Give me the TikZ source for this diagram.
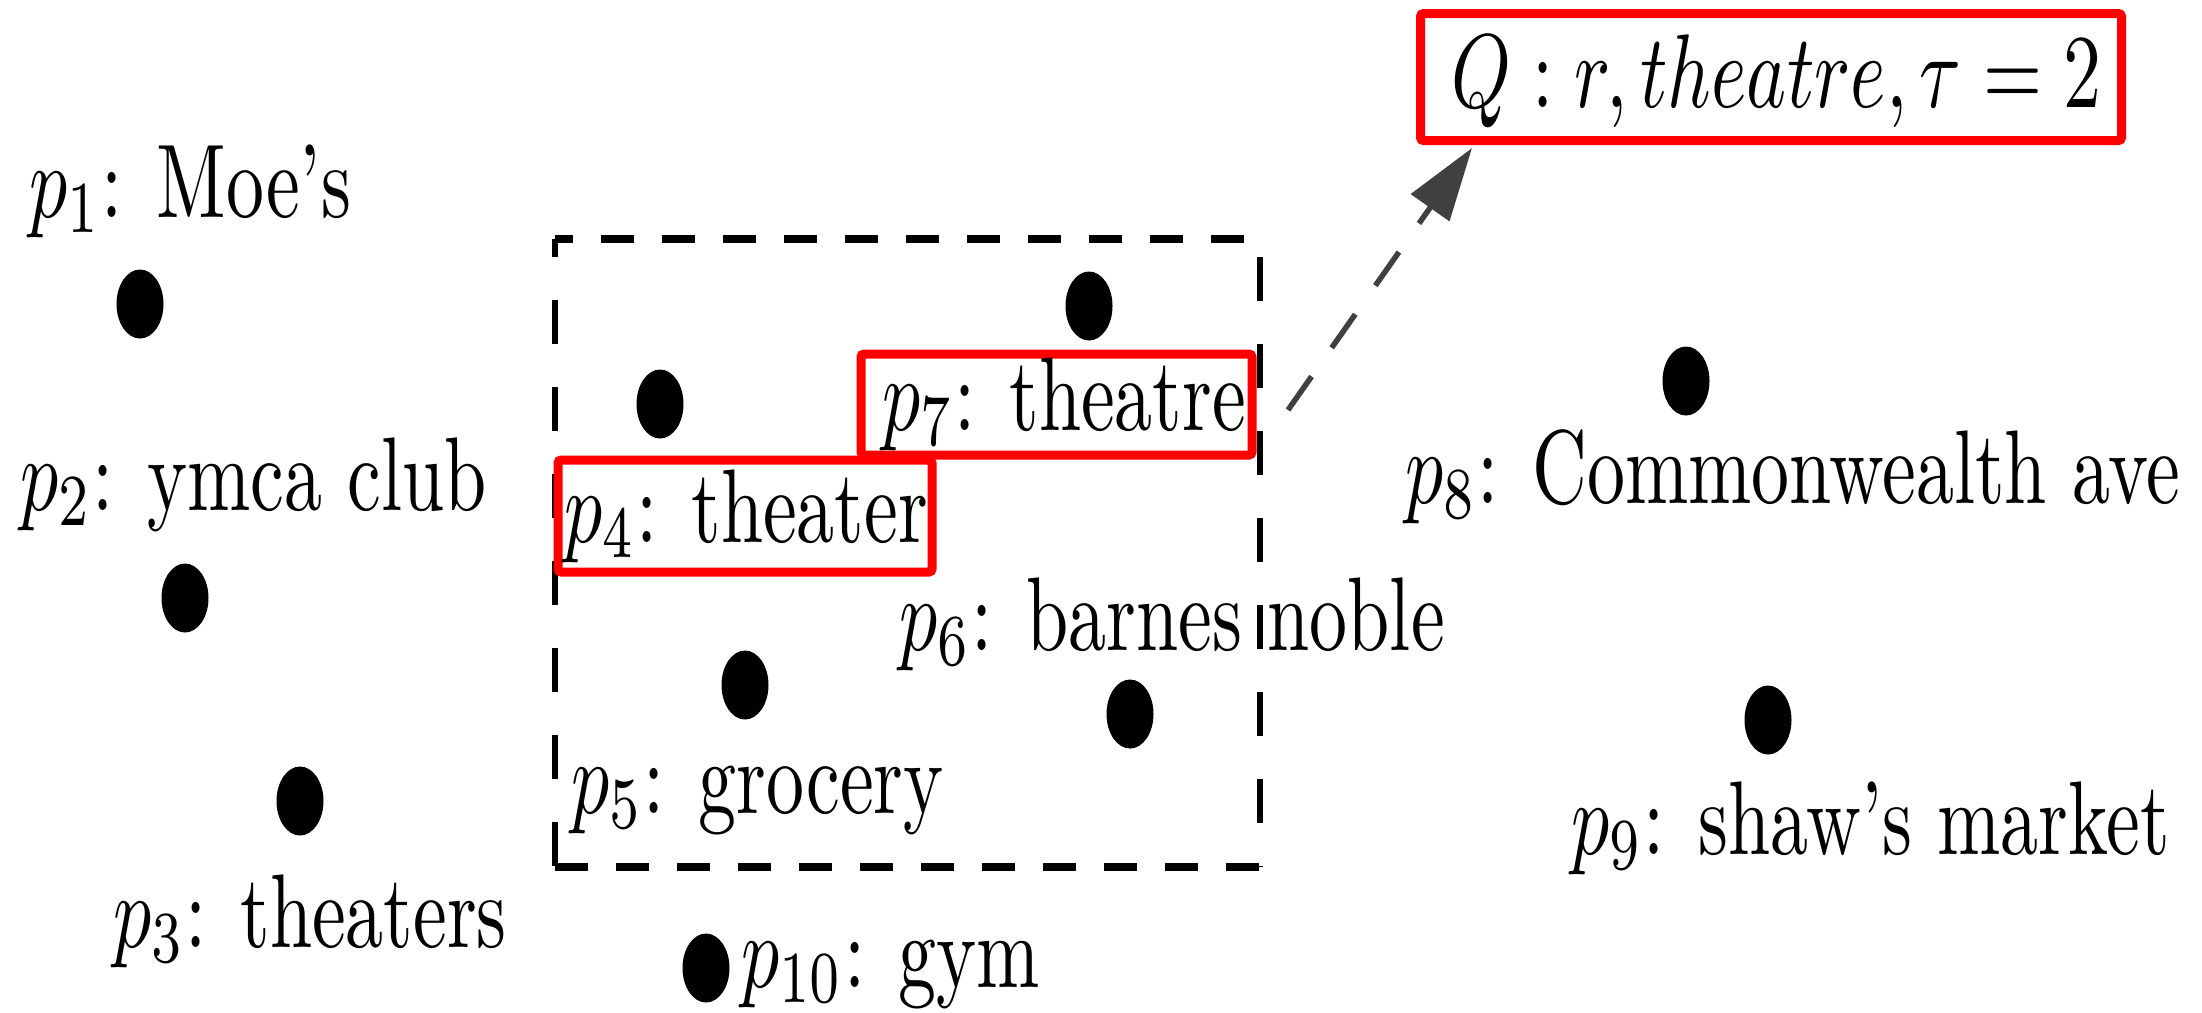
\documentclass[tikz,border=0pt]{standalone}
\usetikzlibrary{shapes.geometric,arrows.meta}
\definecolor{hitred}{RGB}{255,0,0}
\definecolor{arrowgray}{RGB}{64,64,64}
\tikzset{
  poi/.style={ellipse, fill=black, inner sep=0pt, minimum width=0.47cm, minimum height=0.69cm},
  lbl/.style={inner sep=0pt, anchor=base west, xscale=2.16, yscale=2.98, font=\fontsize{10}{12}\selectfont},
  hitbox/.style={draw=hitred, line width=0.09cm, rounded corners=0.03cm, inner sep=0pt},
  hdash/.style={line width=0.072cm, dash pattern=on 0.33cm off 0.28cm},
  vdash/.style={line width=0.052cm, dash pattern=on 0.44cm off 0.43cm},
  qarrow/.style={draw=arrowgray, line width=0.055cm, dash pattern=on 0.41cm off 0.35cm,
    -{Triangle[length=0.73cm,width=0.46cm]}}
}
\begin{document}
\begin{tikzpicture}
\useasboundingbox (0,0) rectangle (22.02,-10.12);

% query range
\draw[hdash, dash phase=0.15cm] (5.55,-2.39) -- (12.60,-2.39);
\draw[hdash] (5.55,-8.67) -- (12.60,-8.67);
\draw[vdash, dash phase=0.26cm] (5.55,-2.39) -- (5.55,-8.67);
\draw[vdash, dash phase=0.69cm] (12.60,-2.39) -- (12.60,-8.67);

% highlighted results and query
\node[hitbox, minimum width=3.74cm, minimum height=1.12cm] (b4) at (7.45,-5.16) {};
\node[hitbox, minimum width=3.91cm, minimum height=1.01cm] (b7) at (10.565,-4.045) {};
\node[hitbox, minimum width=7.01cm, minimum height=1.27cm] (qb) at (17.71,-0.77) {};

% points of interest
\node[poi] (d1) at (1.40,-3.04) {};
\node[poi] (d2) at (1.85,-5.98) {};
\node[poi] (d3) at (3.00,-8.01) {};
\node[poi] (d4) at (6.60,-4.04) {};
\node[poi] (d5) at (7.45,-6.85) {};
\node[poi] (d6) at (11.30,-7.14) {};
\node[poi] (d7) at (10.89,-3.06) {};
\node[poi] (d8) at (16.86,-3.81) {};
\node[poi] (d9) at (17.68,-7.20) {};
\node[poi] (d10) at (7.06,-9.68) {};

% labels
\node[lbl] (l1) at (0.28,-2.17) {$p_1$: Moe's};
\node[lbl] (l2) at (0.19,-5.10) {$p_2$: ymca club};
\node[lbl] (l3) at (1.12,-9.47) {$p_3$: theaters};
\node[lbl] (l4) at (5.63,-5.42) {$p_4$: theater};
\node[lbl] (l5) at (5.70,-8.13) {$p_5$: grocery};
\node[lbl] (l6) at (8.98,-6.50) {$p_6$: barnes noble};
\node[lbl] (l7) at (8.81,-4.30) {$p_7$: theatre};
\node[lbl] (l8) at (14.04,-5.03) {$p_8$: Commonwealth ave};
\node[lbl] (l9) at (15.70,-8.54) {$p_9$: shaw's market};
\node[lbl] (l10) at (7.40,-9.87) {$p_{10}$: gym};
\node[lbl] (qt) at (14.50,-1.07) {$Q : r, theatre, \tau = 2$};

% result handed to the query
\coordinate (a0) at (12.88,-4.10);
\coordinate (a1) at (14.72,-1.48);
\draw[qarrow] (a0) -- (a1);
\end{tikzpicture}
\end{document}
